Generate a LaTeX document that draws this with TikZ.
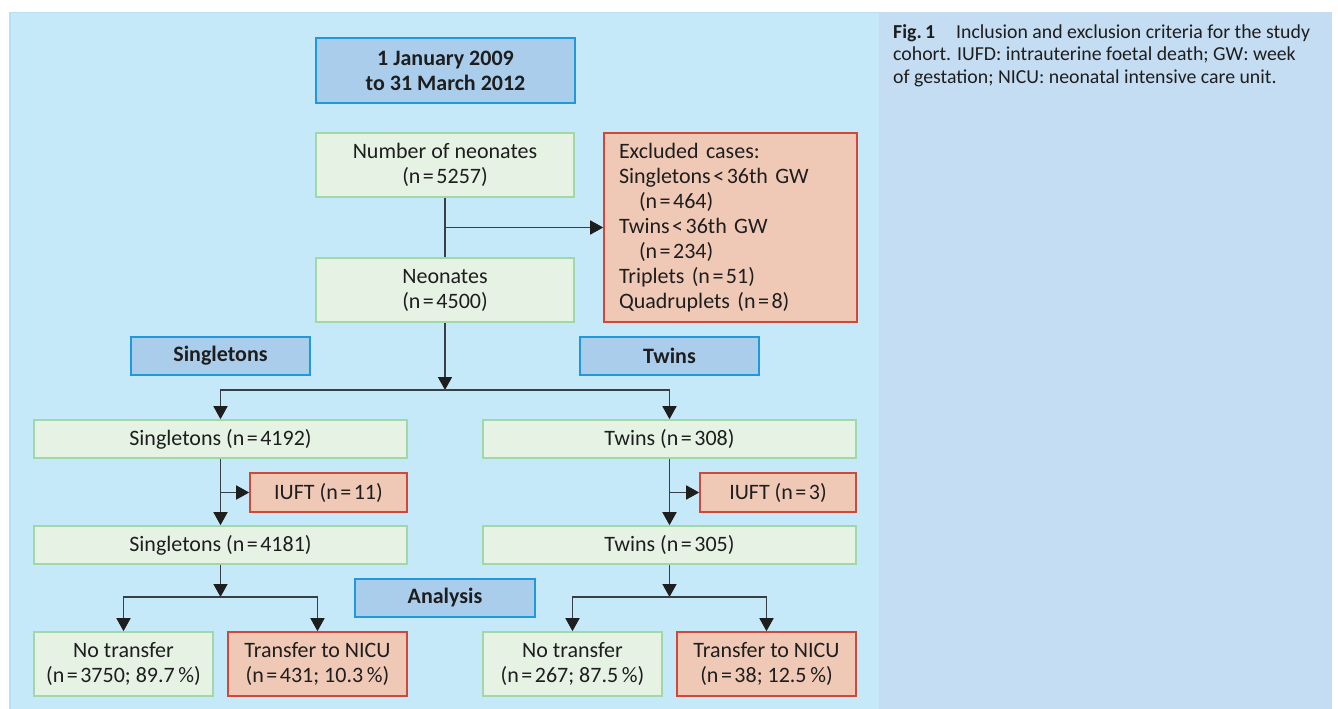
\documentclass[tikz,border=0pt]{standalone}
\usepackage{fontspec}
\setmainfont{Carlito}
\usetikzlibrary{arrows.meta}
\definecolor{panelL}{RGB}{198,233,249}
\definecolor{panelR}{RGB}{197,221,242}
\definecolor{panelEdge}{RGB}{185,222,246}
\definecolor{hdrFill}{RGB}{171,205,236}
\definecolor{hdrLine}{RGB}{32,152,218}
\definecolor{gFill}{RGB}{230,242,228}
\definecolor{gLine}{RGB}{160,216,168}
\definecolor{rFill}{RGB}{240,201,182}
\definecolor{rLine}{RGB}{208,72,58}
\definecolor{txt}{RGB}{30,30,30}
\definecolor{lineC}{RGB}{55,62,70}
\definecolor{tipC}{RGB}{30,30,30}
\newcommand{\eqs}{\hspace{2.5pt}=\hspace{2.5pt}}
\newcommand{\lts}{\hspace{2.5pt}<\hspace{2.5pt}}
\tikzset{
  boxbase/.style={draw, line width=1.6pt, inner sep=0pt, align=center, text=txt,
    font=\fontsize{22}{25}\selectfont},
  hdrbox/.style={boxbase, fill=hdrFill, draw=hdrLine, font=\fontsize{22}{25}\selectfont\bfseries},
  gbox/.style={boxbase, fill=gFill, draw=gLine},
  rbox/.style={boxbase, fill=rFill, draw=rLine},
  conn/.style={draw=lineC, line width=1.6pt},
  arr/.style={conn, -{Triangle[length=13pt,width=14pt,color=tipC]}},
  captext/.style={anchor=base west, inner sep=0pt, text=txt, font=\fontsize{19.8}{23}\selectfont}
}
\begin{document}
\begin{tikzpicture}[x=1pt,y=-1pt]
\useasboundingbox (0,0) rectangle (1338,709);
\fill[white] (0,0) rectangle (1338,709);
\fill[panelL] (9,12) rectangle (879,709);
\draw[panelEdge, line width=1.5pt] (9.75,709) -- (9.75,12.75) -- (879,12.75);
\fill[panelR] (879,12) rectangle (1332,709);

% caption
\node[captext] (cap1) at (893,38) {\textbf{Fig.\,1}\hspace{21pt}Inclusion and exclusion criteria for the study};
\node[captext] (cap2) at (893,61) {cohort. IUFD: intrauterine foetal death; GW: week};
\node[captext] (cap3) at (893,84) {of gestation; NICU: neonatal intensive care unit.};

% top part
\node[hdrbox, minimum width=259pt, minimum height=65pt] (date) at (445.5,70.5) {1 January 2009\\to 31 March 2012};
\node[gbox, minimum width=258pt, minimum height=64pt] (num) at (445,165) {Number of neonates\\(n\eqs5257)};
\node[gbox, minimum width=258pt, minimum height=64pt] (neo) at (445,290) {Neonates\\(n\eqs4500)};
\node[rbox, minimum width=253pt, minimum height=189pt, text width=223pt, inner xsep=15pt, align=left] (excl) at (730.5,227.5)
  {Excluded cases:\\Singletons\lts36th GW\\\hspace*{20pt}(n\eqs464)\\Twins\lts36th GW\\\hspace*{20pt}(n\eqs234)\\Triplets (n\eqs51)\\Quadruplets (n\eqs8)};

% headers
\node[hdrbox, minimum width=179pt, minimum height=38pt] (sgh) at (220.5,356) {Singletons};
\node[hdrbox, minimum width=179pt, minimum height=38pt] (twh) at (669.5,356) {Twins};
\node[hdrbox, minimum width=180pt, minimum height=38pt] (ana) at (445,598) {Analysis};

% singletons
\node[gbox, minimum width=373pt, minimum height=38pt] (s1) at (220.5,439) {Singletons (n\eqs4192)};
\node[rbox, minimum width=157pt, minimum height=39pt] (siu) at (328.5,492.5) {IUFT (n\eqs11)};
\node[gbox, minimum width=373pt, minimum height=38pt] (s2) at (220.5,545) {Singletons (n\eqs4181)};
\node[gbox, minimum width=179pt, minimum height=64pt] (sno) at (123.5,664) {No transfer\\(n\eqs3750; 89.7\,\%)};
\node[rbox, minimum width=179pt, minimum height=64pt] (str) at (317.5,664) {Transfer to NICU\\(n\eqs431; 10.3\,\%)};

% twins
\node[gbox, minimum width=373pt, minimum height=38pt] (t1) at (669.5,439) {Twins (n\eqs308)};
\node[rbox, minimum width=156pt, minimum height=39pt] (tiu) at (778,492.5) {IUFT (n\eqs3)};
\node[gbox, minimum width=373pt, minimum height=38pt] (t2) at (669.5,545) {Twins (n\eqs305)};
\node[gbox, minimum width=179pt, minimum height=64pt] (tno) at (572.5,664) {No transfer\\(n\eqs267; 87.5\,\%)};
\node[rbox, minimum width=179pt, minimum height=64pt] (ttr) at (766.5,664) {Transfer to NICU\\(n\eqs38; 12.5\,\%)};

% junction coordinates
\coordinate (nsplit) at (445,390);
\coordinate (ssplit) at (220.5,597);
\coordinate (tsplit) at (669.5,597);

% connectors
\draw[conn] (num.south) -- (neo.north);
\draw[arr] (num.south |- excl.west) -- (excl.west);
\draw[arr] (neo.south) -- (nsplit);
\draw[arr] (nsplit) -| (s1.north);
\draw[arr] (nsplit) -| (t1.north);

\draw[arr] (s1.south) -- (s2.north);
\draw[arr] (s1.south |- siu.west) -- (siu.west);
\draw[arr] (s2.south) -- (ssplit);
\draw[arr] (ssplit) -| (sno.north);
\draw[arr] (ssplit) -| (str.north);

\draw[arr] (t1.south) -- (t2.north);
\draw[arr] (t1.south |- tiu.west) -- (tiu.west);
\draw[arr] (t2.south) -- (tsplit);
\draw[arr] (tsplit) -| (tno.north);
\draw[arr] (tsplit) -| (ttr.north);
\end{tikzpicture}
\end{document}
